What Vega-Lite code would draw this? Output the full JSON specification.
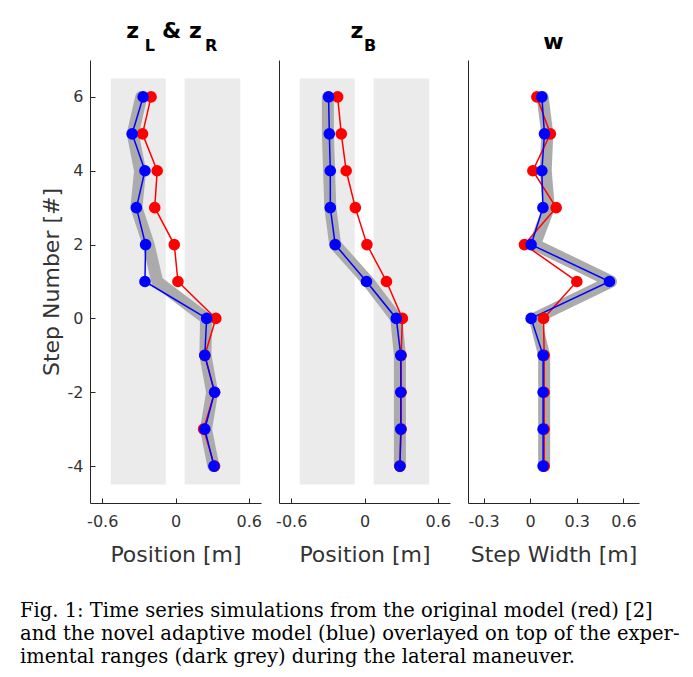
{
  "$schema": "https://vega.github.io/schema/vega-lite/v6.json",
  "background": "white",
  "padding": {"left": 20, "top": 20, "right": 5, "bottom": 5},
  "config": {
    "font": "DejaVu Sans",
    "view": {"stroke": null},
    "axis": {
      "grid": false,
      "domainColor": "#262626",
      "domainWidth": 1,
      "tickColor": "#262626",
      "tickSize": -5,
      "labelFont": "DejaVu Sans",
      "labelFontSize": 16,
      "labelColor": "#333333",
      "labelPadding": 12,
      "titleFont": "DejaVu Sans",
      "titleFontSize": 22,
      "titleFontWeight": "normal",
      "titleColor": "#333333",
      "titlePadding": 4
    },
    "axisX": {"labelPadding": 15, "titlePadding": 15},
    "title": {
      "font": "DejaVu Sans",
      "fontSize": 22,
      "fontWeight": "bold",
      "color": "black",
      "subtitleFont": "DejaVu Sans",
      "subtitleFontSize": 16,
      "subtitleFontWeight": "bold",
      "subtitleColor": "black",
      "subtitlePadding": -5,
      "offset": 5
    }
  },
  "title": {
    "text": [
      "Fig. 1: Time series simulations from the original model (red) [2]",
      "and the novel adaptive model (blue) overlayed on top of the exper-",
      "imental ranges (dark grey) during the lateral maneuver."
    ],
    "orient": "bottom",
    "anchor": "start",
    "font": "DejaVu Serif",
    "fontSize": 19.5,
    "fontWeight": "normal",
    "color": "black",
    "lineHeight": 23,
    "offset": 37,
    "dx": -20
  },
  "datasets": {
    "bands": [
      {"panel": "zLR", "value": -0.53, "value_end": -0.08, "step": -4.5, "step_end": 6.5},
      {"panel": "zLR", "value": 0.075, "value_end": 0.53, "step": -4.5, "step_end": 6.5},
      {"panel": "zB", "value": -0.53, "value_end": -0.08, "step": -4.5, "step_end": 6.5},
      {"panel": "zB", "value": 0.075, "value_end": 0.53, "step": -4.5, "step_end": 6.5}
    ],
    "exp": [
      {"panel": "zLR", "step": 6, "value": -0.28},
      {"panel": "zLR", "step": 5, "value": -0.35},
      {"panel": "zLR", "step": 4, "value": -0.29},
      {"panel": "zLR", "step": 3, "value": -0.32},
      {"panel": "zLR", "step": 2, "value": -0.22},
      {"panel": "zLR", "step": 1, "value": -0.15},
      {"panel": "zLR", "step": 0, "value": 0.25},
      {"panel": "zLR", "step": -1, "value": 0.245},
      {"panel": "zLR", "step": -2, "value": 0.3},
      {"panel": "zLR", "step": -3, "value": 0.25},
      {"panel": "zLR", "step": -4, "value": 0.31},
      {"panel": "zB", "step": 6, "value": -0.3},
      {"panel": "zB", "step": 5, "value": -0.3},
      {"panel": "zB", "step": 4, "value": -0.29},
      {"panel": "zB", "step": 3, "value": -0.28},
      {"panel": "zB", "step": 2, "value": -0.24},
      {"panel": "zB", "step": 1, "value": 0.03},
      {"panel": "zB", "step": 0, "value": 0.26},
      {"panel": "zB", "step": -1, "value": 0.29},
      {"panel": "zB", "step": -2, "value": 0.29},
      {"panel": "zB", "step": -3, "value": 0.29},
      {"panel": "zB", "step": -4, "value": 0.29},
      {"panel": "w", "step": 6, "value": 0.08},
      {"panel": "w", "step": 5, "value": 0.11},
      {"panel": "w", "step": 4, "value": 0.1},
      {"panel": "w", "step": 3, "value": 0.12},
      {"panel": "w", "step": 2, "value": 0.03},
      {"panel": "w", "step": 1, "value": 0.52},
      {"panel": "w", "step": 0, "value": 0.03},
      {"panel": "w", "step": -1, "value": 0.09},
      {"panel": "w", "step": -2, "value": 0.09},
      {"panel": "w", "step": -3, "value": 0.09},
      {"panel": "w", "step": -4, "value": 0.09}
    ],
    "sim": [
      {"panel": "zLR", "model": "original", "step": 6, "value": -0.2},
      {"panel": "zLR", "model": "original", "step": 5, "value": -0.27},
      {"panel": "zLR", "model": "original", "step": 4, "value": -0.15},
      {"panel": "zLR", "model": "original", "step": 3, "value": -0.17},
      {"panel": "zLR", "model": "original", "step": 2, "value": -0.01},
      {"panel": "zLR", "model": "original", "step": 1, "value": 0.02},
      {"panel": "zLR", "model": "original", "step": 0, "value": 0.33},
      {"panel": "zLR", "model": "original", "step": -1, "value": 0.24},
      {"panel": "zLR", "model": "original", "step": -2, "value": 0.32},
      {"panel": "zLR", "model": "original", "step": -3, "value": 0.23},
      {"panel": "zLR", "model": "original", "step": -4, "value": 0.32},
      {"panel": "zB", "model": "original", "step": 6, "value": -0.22},
      {"panel": "zB", "model": "original", "step": 5, "value": -0.19},
      {"panel": "zB", "model": "original", "step": 4, "value": -0.15},
      {"panel": "zB", "model": "original", "step": 3, "value": -0.075},
      {"panel": "zB", "model": "original", "step": 2, "value": 0.02},
      {"panel": "zB", "model": "original", "step": 1, "value": 0.18},
      {"panel": "zB", "model": "original", "step": 0, "value": 0.31},
      {"panel": "zB", "model": "original", "step": -1, "value": 0.3},
      {"panel": "zB", "model": "original", "step": -2, "value": 0.3},
      {"panel": "zB", "model": "original", "step": -3, "value": 0.3},
      {"panel": "zB", "model": "original", "step": -4, "value": 0.29},
      {"panel": "w", "model": "original", "step": 6, "value": 0.043},
      {"panel": "w", "model": "original", "step": 5, "value": 0.13},
      {"panel": "w", "model": "original", "step": 4, "value": 0.017},
      {"panel": "w", "model": "original", "step": 3, "value": 0.167},
      {"panel": "w", "model": "original", "step": 2, "value": -0.037},
      {"panel": "w", "model": "original", "step": 1, "value": 0.3},
      {"panel": "w", "model": "original", "step": 0, "value": 0.086},
      {"panel": "w", "model": "original", "step": -1, "value": 0.09},
      {"panel": "w", "model": "original", "step": -2, "value": 0.09},
      {"panel": "w", "model": "original", "step": -3, "value": 0.09},
      {"panel": "w", "model": "original", "step": -4, "value": 0.09},
      {"panel": "zLR", "model": "adaptive", "step": 6, "value": -0.265},
      {"panel": "zLR", "model": "adaptive", "step": 5, "value": -0.355},
      {"panel": "zLR", "model": "adaptive", "step": 4, "value": -0.25},
      {"panel": "zLR", "model": "adaptive", "step": 3, "value": -0.32},
      {"panel": "zLR", "model": "adaptive", "step": 2, "value": -0.245},
      {"panel": "zLR", "model": "adaptive", "step": 1, "value": -0.25},
      {"panel": "zLR", "model": "adaptive", "step": 0, "value": 0.255},
      {"panel": "zLR", "model": "adaptive", "step": -1, "value": 0.24},
      {"panel": "zLR", "model": "adaptive", "step": -2, "value": 0.32},
      {"panel": "zLR", "model": "adaptive", "step": -3, "value": 0.24},
      {"panel": "zLR", "model": "adaptive", "step": -4, "value": 0.315},
      {"panel": "zB", "model": "adaptive", "step": 6, "value": -0.294},
      {"panel": "zB", "model": "adaptive", "step": 5, "value": -0.288},
      {"panel": "zB", "model": "adaptive", "step": 4, "value": -0.28},
      {"panel": "zB", "model": "adaptive", "step": 3, "value": -0.28},
      {"panel": "zB", "model": "adaptive", "step": 2, "value": -0.24},
      {"panel": "zB", "model": "adaptive", "step": 1, "value": 0.016},
      {"panel": "zB", "model": "adaptive", "step": 0, "value": 0.26},
      {"panel": "zB", "model": "adaptive", "step": -1, "value": 0.297},
      {"panel": "zB", "model": "adaptive", "step": -2, "value": 0.297},
      {"panel": "zB", "model": "adaptive", "step": -3, "value": 0.297},
      {"panel": "zB", "model": "adaptive", "step": -4, "value": 0.29},
      {"panel": "w", "model": "adaptive", "step": 6, "value": 0.075},
      {"panel": "w", "model": "adaptive", "step": 5, "value": 0.092},
      {"panel": "w", "model": "adaptive", "step": 4, "value": 0.075},
      {"panel": "w", "model": "adaptive", "step": 3, "value": 0.082},
      {"panel": "w", "model": "adaptive", "step": 2, "value": 0.006},
      {"panel": "w", "model": "adaptive", "step": 1, "value": 0.51},
      {"panel": "w", "model": "adaptive", "step": 0, "value": 0.006},
      {"panel": "w", "model": "adaptive", "step": -1, "value": 0.083},
      {"panel": "w", "model": "adaptive", "step": -2, "value": 0.083},
      {"panel": "w", "model": "adaptive", "step": -3, "value": 0.083},
      {"panel": "w", "model": "adaptive", "step": -4, "value": 0.083}
    ]
  },
  "spacing": 16,
  "hconcat": [
    {
      "spacing": 13,
      "hconcat": [
        {
          "width": 171,
          "height": 443,
          "title": {
            "text": "\u2060z\u00a0\u00a0\u00a0&\u00a0z\u00a0\u00a0\u00a0\u2060",
            "subtitle": "\u2060\u00a0\u00a0L\u00a0\u00a0\u00a0\u00a0\u00a0\u00a0\u00a0\u00a0\u00a0R\u2060"
          },
          "encoding": {
            "x": {"field": "value", "type": "quantitative", "scale": {"domain": [-0.7, 0.7], "nice": false, "zero": false}, "axis": {"values": [-0.6, 0, 0.6], "format": "~g", "labelExpr": "replace(datum.label, '\u2212', '-')", "title": "Position [m]"}},
            "y": {"field": "step", "type": "quantitative", "scale": {"domain": [-5, 7], "nice": false, "zero": false}, "axis": {"values": [-4, -2, 0, 2, 4, 6], "format": "~g", "labelExpr": "replace(datum.label, '\u2212', '-')", "title": "Step Number [#]"}}
          },
          "layer": [
            {"data": {"name": "bands"}, "transform": [{"filter": "datum.panel === 'zLR'"}], "mark": {"type": "rect", "color": "#ebebeb"}, "encoding": {"x2": {"field": "value_end"}, "y2": {"field": "step_end"}}},
            {"data": {"name": "exp"}, "transform": [{"filter": "datum.panel === 'zLR'"}], "mark": {"type": "line", "color": "#ababab", "strokeWidth": 12, "strokeCap": "round", "strokeJoin": "round"}, "encoding": {"order": {"field": "step", "type": "quantitative"}}},
            {"data": {"name": "sim"}, "transform": [{"filter": "datum.panel === 'zLR'"}], "mark": {"type": "line", "strokeWidth": 1.5}, "encoding": {"color": {"field": "model", "type": "nominal", "scale": {"domain": ["original", "adaptive"], "range": ["#ff0000", "#0000ff"]}, "legend": null}, "order": {"field": "step", "type": "quantitative"}}},
            {"data": {"name": "sim"}, "transform": [{"filter": "datum.panel === 'zLR'"}], "mark": {"type": "point", "filled": true, "size": 135, "opacity": 1}, "encoding": {"color": {"field": "model", "type": "nominal", "scale": {"domain": ["original", "adaptive"], "range": ["#ff0000", "#0000ff"]}, "legend": null}}}
          ]
        },
        {
          "width": 171,
          "height": 443,
          "title": {
            "text": "\u2060z\u00a0\u00a0\u2060",
            "subtitle": "\u2060\u00a0\u00a0B\u2060"
          },
          "encoding": {
            "x": {"field": "value", "type": "quantitative", "scale": {"domain": [-0.7, 0.7], "nice": false, "zero": false}, "axis": {"values": [-0.6, 0, 0.6], "format": "~g", "labelExpr": "replace(datum.label, '\u2212', '-')", "title": "Position [m]"}},
            "y": {"field": "step", "type": "quantitative", "scale": {"domain": [-5, 7], "nice": false, "zero": false}, "axis": {"values": [-4, -2, 0, 2, 4, 6], "labels": false, "ticks": false, "title": null}}
          },
          "layer": [
            {"data": {"name": "bands"}, "transform": [{"filter": "datum.panel === 'zB'"}], "mark": {"type": "rect", "color": "#ebebeb"}, "encoding": {"x2": {"field": "value_end"}, "y2": {"field": "step_end"}}},
            {"data": {"name": "exp"}, "transform": [{"filter": "datum.panel === 'zB'"}], "mark": {"type": "line", "color": "#ababab", "strokeWidth": 12, "strokeCap": "round", "strokeJoin": "round"}, "encoding": {"order": {"field": "step", "type": "quantitative"}}},
            {"data": {"name": "sim"}, "transform": [{"filter": "datum.panel === 'zB'"}], "mark": {"type": "line", "strokeWidth": 1.5}, "encoding": {"color": {"field": "model", "type": "nominal", "scale": {"domain": ["original", "adaptive"], "range": ["#ff0000", "#0000ff"]}, "legend": null}, "order": {"field": "step", "type": "quantitative"}}},
            {"data": {"name": "sim"}, "transform": [{"filter": "datum.panel === 'zB'"}], "mark": {"type": "point", "filled": true, "size": 135, "opacity": 1}, "encoding": {"color": {"field": "model", "type": "nominal", "scale": {"domain": ["original", "adaptive"], "range": ["#ff0000", "#0000ff"]}, "legend": null}}}
          ]
        }
      ]
    },
    {
      "width": 171,
      "height": 443,
      "title": {
        "text": "w",
        "offset": 6
      },
      "encoding": {
        "x": {"field": "value", "type": "quantitative", "scale": {"domain": [-0.4, 0.7], "nice": false, "zero": false}, "axis": {"values": [-0.3, 0, 0.3, 0.6], "format": "~g", "labelExpr": "replace(datum.label, '\u2212', '-')", "title": "Step Width [m]"}},
        "y": {"field": "step", "type": "quantitative", "scale": {"domain": [-5, 7], "nice": false, "zero": false}, "axis": {"values": [-4, -2, 0, 2, 4, 6], "labels": false, "ticks": false, "title": null}}
      },
      "layer": [
        {"data": {"name": "exp"}, "transform": [{"filter": "datum.panel === 'w'"}], "mark": {"type": "line", "color": "#ababab", "strokeWidth": 12, "strokeCap": "round", "strokeJoin": "round"}, "encoding": {"order": {"field": "step", "type": "quantitative"}}},
        {"data": {"name": "sim"}, "transform": [{"filter": "datum.panel === 'w'"}], "mark": {"type": "line", "strokeWidth": 1.5}, "encoding": {"color": {"field": "model", "type": "nominal", "scale": {"domain": ["original", "adaptive"], "range": ["#ff0000", "#0000ff"]}, "legend": null}, "order": {"field": "step", "type": "quantitative"}}},
        {"data": {"name": "sim"}, "transform": [{"filter": "datum.panel === 'w'"}], "mark": {"type": "point", "filled": true, "size": 135, "opacity": 1}, "encoding": {"color": {"field": "model", "type": "nominal", "scale": {"domain": ["original", "adaptive"], "range": ["#ff0000", "#0000ff"]}, "legend": null}}}
      ]
    }
  ]
}
